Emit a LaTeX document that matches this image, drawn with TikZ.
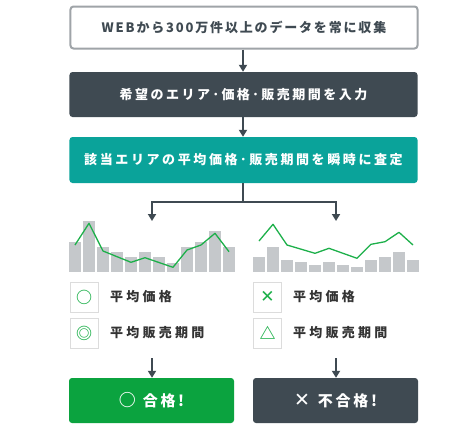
\documentclass[tikz,border=0pt]{standalone}
\usepackage{fontspec}
\usetikzlibrary{arrows.meta}
\setmainfont{Noto Sans CJK JP}
\newfontfamily\jpa[LetterSpace=14]{Noto Sans CJK JP}
\newfontfamily\jpb[LetterSpace=19]{Noto Sans CJK JP}
\newfontfamily\jpc[LetterSpace=20]{Noto Sans CJK JP}
\newfontfamily\jpl[LetterSpace=25]{Noto Sans CJK JP}
\newfontfamily\jpbtn[LetterSpace=18]{Noto Sans CJK JP}
\newfontfamily\dv{DejaVu Sans}
\definecolor{dark}{HTML}{3F4A52}
\definecolor{teal}{HTML}{0AA39A}
\definecolor{okgreen}{HTML}{0BA33F}
\definecolor{lgreen}{HTML}{1DB04A}
\definecolor{bargray}{HTML}{C5C8CB}
\definecolor{bordergray}{HTML}{9FA4A8}
\definecolor{legborder}{HTML}{DCDCDC}
\definecolor{txt}{HTML}{333333}
\tikzset{
  box/.style={rounded corners=3bp, minimum width=348bp, minimum height=44bp, inner sep=0pt},
  boxfont/.style={font=#1\bfseries\fontsize{13bp}{15bp}\selectfont},
  btn/.style={rounded corners=3bp, minimum width=165bp, minimum height=45bp, inner sep=0pt, text=white, font=\jpbtn\bfseries\fontsize{15bp}{17bp}\selectfont},
  arr/.style={draw=dark, line width=2bp, -{Triangle[width=8bp,length=7bp]}},
  conn/.style={draw=dark, line width=2bp},
  legbox/.style={draw=legborder, line width=1bp, minimum width=28bp, minimum height=30bp, inner sep=0pt, text=lgreen, font=\bfseries\fontsize{16bp}{18bp}\selectfont},
  legtxt/.style={anchor=west, inner sep=0pt, text=txt, font=\jpl\bfseries\fontsize{13bp}{15bp}\selectfont},
  bar/.style={fill=bargray, draw=none},
  trend/.style={draw=lgreen, line width=1.3bp, line join=round}
}
\begin{document}
\begin{tikzpicture}[x=1bp, y=-1bp]
\useasboundingbox (0,0) rectangle (476,426);
\fill[white] (0,0) rectangle (476,426);

\node[box, boxfont=\jpa, draw=bordergray, line width=2bp, fill=white, text=dark, minimum width=347bp, minimum height=42bp] (b1) at (244,27.5) {WEBから300万件以上のデータを常に収集};
\node[box, boxfont=\jpb, fill=dark, text=white, minimum height=45bp] (b2) at (243.5,94.5) {希望のエリア･価格･販売期間を入力};
\node[box, boxfont=\jpc, fill=teal, text=white, minimum height=46bp] (b3) at (243.5,160) {該当エリアの平均価格･販売期間を瞬時に査定};

\draw[arr] (b1.south -| 243,0) -- (b2.north -| 243,0);
\draw[arr] (b2.south -| 243,0) -- (b3.north -| 243,0);

\coordinate (j) at (243,202);
\coordinate (jl) at (152,202);
\coordinate (jr) at (336,202);
\coordinate (el) at (152,221);
\coordinate (er) at (336,221);
\draw[conn] (b3.south -| j) -- (j);
\draw[conn, line cap=rect] (jl) -- (jr);
\draw[arr] (jl) -- (el);
\draw[arr] (jr) -- (er);

% left chart
\foreach \t [count=\i from 0] in {241.7,221,246.7,251.7,256.7,251.7,256.7,262.7,246.7,241.7,230.7,246.7}
  \fill[bar] (69+14*\i,\t) rectangle (81+14*\i,272);
\draw[trend] (75,245) -- (89,223.3) -- (103,251) -- (131,262.3) -- (145,257.7) -- (173,267.3) -- (187,250) -- (201,245) -- (215,233.3) -- (229,251.7);

% right chart
\foreach \t [count=\i from 0] in {256.7,246.7,260,261.7,265,261.7,265,266.7,260,256.7,251.7,260}
  \fill[bar] (253+14*\i,\t) rectangle (265+14*\i,272);
\draw[trend] (259,241) -- (273,224.3) -- (287,245) -- (315,253.3) -- (329,248.3) -- (357,258.3) -- (371,244.3) -- (385,241.7) -- (399,232.3) -- (413,245);

% legends
\node[legbox] (l1) at (84,297) {○};
\node[legbox] (l2) at (84,333) {◎};
\node[legbox] (r1) at (267.5,297) {\dv\bfseries\fontsize{17bp}{18bp}\selectfont ✕};
\node[legbox] (r2) at (267.5,333) {△};
\node[legtxt] (t1) at (110,297) {平均価格};
\node[legtxt] (t2) at (110,333) {平均販売期間};
\node[legtxt] (t3) at (293,297) {平均価格};
\node[legtxt] (t4) at (293,333) {平均販売期間};

% result buttons
\node[btn, fill=okgreen] (ok) at (151.5,400.5) {{\fontsize{17bp}{18bp}\selectfont ○}\hspace{7bp}合格!};
\node[btn, fill=dark] (ng) at (335.5,400.5) {{\dv\bfseries\fontsize{19bp}{19bp}\selectfont ✕}\hspace{8bp}不合格!};
\coordinate (sl) at (152,358);
\coordinate (sr) at (336,358);
\draw[arr] (sl) -- (ok.north -| sl);
\draw[arr] (sr) -- (ng.north -| sr);
\end{tikzpicture}
\end{document}
